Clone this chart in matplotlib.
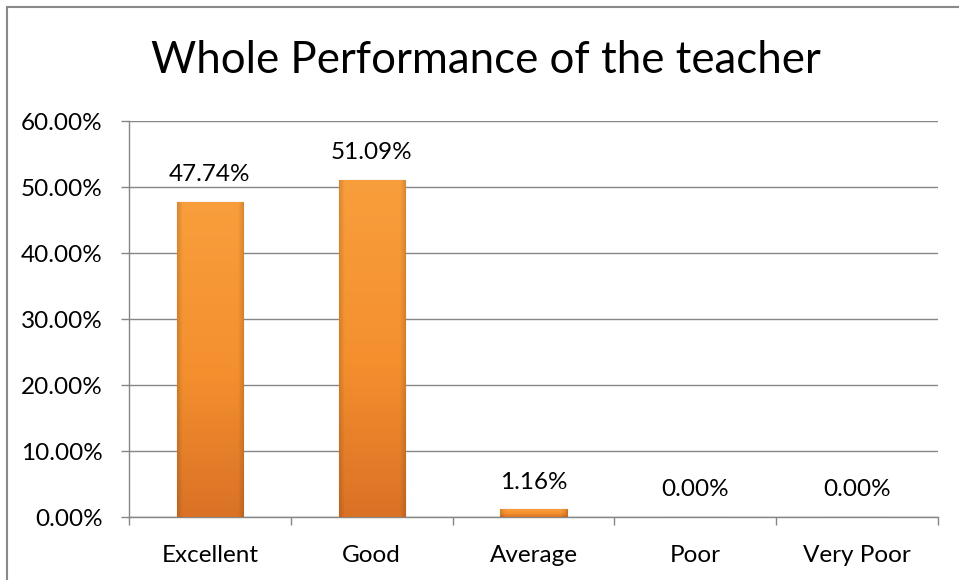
import numpy as np
import matplotlib
matplotlib.use("Agg")
import matplotlib.pyplot as plt
from matplotlib.colors import LinearSegmentedColormap
from matplotlib.patches import Rectangle

# data
categories = ["Excellent", "Good", "Average", "Poor", "Very Poor"]
values = [47.74, 51.09, 1.16, 0.00, 0.00]
yticks = [0, 10, 20, 30, 40, 50, 60]

plt.rcParams['font.family'] = ['Lato', 'DejaVu Sans']

fig = plt.figure(figsize=(9.59, 5.8), dpi=100)
ax = fig.add_axes([129/959, 1 - 517/580, (938 - 129)/959, (517 - 121)/580])

x = np.arange(len(categories))
bars = ax.bar(x, values, width=0.41, color="#F7962F", edgecolor="#C96A22", linewidth=0.8, zorder=3)

# orange fill: lighter at the top, darker at the bottom, shaded side edges
cmap = LinearSegmentedColormap.from_list("org", [(0, "#DA7226"), (0.45, "#F48F2E"), (1, "#F99E3C")])
t = np.linspace(0, 1, 200)[:, None]
u = np.linspace(0, 1, 60)[None, :]
edge = 1 - 0.13 * np.clip(1 - np.minimum(u, 1 - u) / 0.08, 0, 1)
img = cmap(np.repeat(t, 60, axis=1))[..., :3] * edge[..., None]
img = np.clip(img, 0, 1)
for b in bars:
    h = b.get_height()
    if h <= 0:
        continue
    x0 = b.get_x()
    im = ax.imshow(img, extent=[x0, x0 + b.get_width(), 0, h], origin="lower",
                   aspect="auto", zorder=3.5, interpolation="bilinear")
    im.set_clip_path(b)

for xi, v in zip(x, values):
    ax.annotate(f"{v:.2f}%", (xi, v), xytext=(0, 19.5), textcoords="offset points",
                ha="center", va="center", fontsize=17.5, color="#000000")

ax.set_xlim(-0.5, len(categories) - 0.5)
ax.set_ylim(0, 60)
ax.set_yticks(yticks)
ax.set_yticklabels([f"{t:.2f}%" for t in yticks])
ax.set_xticks(x)
ax.set_xticklabels(categories)
ax.set_xticks(np.arange(len(categories) + 1) - 0.5, minor=True)
ax.tick_params(axis="x", which="major", length=0, pad=20, labelsize=17.5)
ax.tick_params(axis="x", which="minor", length=6, width=1, color="#868686", direction="out")
ax.tick_params(axis="y", length=6, width=1, color="#868686", pad=13, labelsize=17.5)

ax.grid(axis="y", color="#868686", linewidth=1, zorder=0)
ax.set_axisbelow(True)
for s in ["top", "right"]:
    ax.spines[s].set_visible(False)
for s in ["left", "bottom"]:
    ax.spines[s].set_color("#868686")
    ax.spines[s].set_linewidth(1)

fig.text(0.507, 1 - 73/580, "Whole Performance of the teacher", ha="center", va="baseline",
         fontsize=31.5, color="#000000")

# outer chart frame
fig.patches.append(Rectangle((7/959, -0.1), 1.2, 1 - 7/580 + 0.1, transform=fig.transFigure,
                             fill=False, edgecolor="#898989", linewidth=1.5))

fig.savefig("out.png", dpi=100)
